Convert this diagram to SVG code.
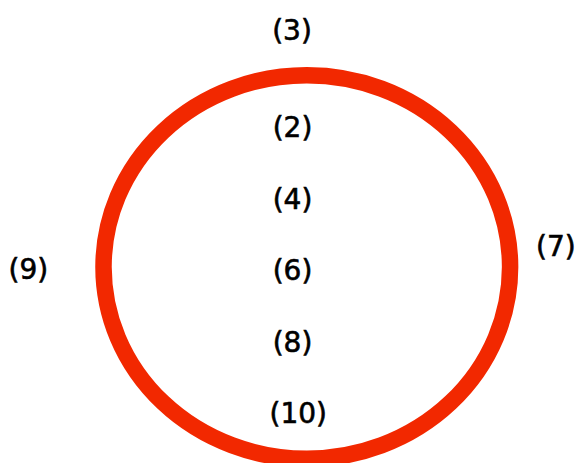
<svg xmlns="http://www.w3.org/2000/svg" width="577" height="463" viewBox="0 0 577 463">
<style>
.lbl{font-family:"DejaVu Sans","Liberation Sans",sans-serif;font-size:28px;fill:#000;stroke:#000;stroke-width:0.6;text-anchor:middle}
.ring{fill:none;stroke:#f22800;stroke-width:16.5}
</style>
<rect width="577" height="463" fill="#fff"/>
<g id="circle">
<ellipse class="ring" cx="306.8" cy="267" rx="203.3" ry="191.8"/>
</g>
<g id="connectors"></g>
<g id="n3"><text class="lbl" x="292" y="39.5">(3)</text></g>
<g id="n2"><text class="lbl" x="292.5" y="137">(2)</text></g>
<g id="n4"><text class="lbl" x="292.5" y="208.5">(4)</text></g>
<g id="n6"><text class="lbl" x="292.5" y="280">(6)</text></g>
<g id="n8"><text class="lbl" x="292.5" y="351.5">(8)</text></g>
<g id="n10"><text class="lbl" x="298.3" y="423">(10)</text></g>
<g id="n9"><text class="lbl" x="28.3" y="279">(9)</text></g>
<g id="n7"><text class="lbl" x="555.8" y="256">(7)</text></g>
</svg>
